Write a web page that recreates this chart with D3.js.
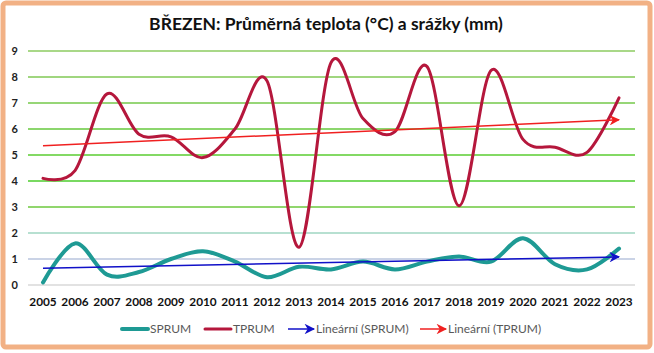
<!DOCTYPE html>
<html>
<head>
<meta charset="utf-8">
<script src="https://cdn.jsdelivr.net/npm/d3@7"></script>
<style>
  body { margin: 0; background: #fff; }
  svg { display: block; }
</style>
</head>
<body>
<svg id="chart"></svg>
<script>
// Data
const years = ["2005","2006","2007","2008","2009","2010","2011","2012","2013","2014",
               "2015","2016","2017","2018","2019","2020","2021","2022","2023"];
const sprum = [0.1, 1.6, 0.4, 0.5, 1.0, 1.3, 0.9, 0.3, 0.7, 0.6,
               0.9, 0.6, 0.9, 1.1, 0.9, 1.8, 0.8, 0.6, 1.4];
const tprum = [4.1, 4.4, 7.35, 5.8, 5.7, 4.9, 6.0, 7.85, 1.45, 8.55,
               6.4, 5.9, 8.4, 3.05, 8.25, 5.6, 5.3, 5.1, 7.2];
const yTicks = [0, 1, 2, 3, 4, 5, 6, 7, 8, 9];
const gridColors = ["#d9d9d9", "#b9c4de", "#9fd6c2", "#6cc83c", "#4ccc2c", "#5acc30",
                    "#66c83c", "#74c84a", "#80c854", "#8ccb60"];
const title = "BŘEZEN: Průměrná teplota (°C) a srážky (mm)";

const width = 654;
const height = 353;
const marginTop = 51;
const marginBottom = 68;
const marginLeft = 27;
const marginRight = 19;

const cSprum = "#1e9a94";
const cTprum = "#b5173c";
const cTrendS = "#1010c8";
const cTrendT = "#f02020";

const svg = d3.select("#chart")
  .attr("width", width)
  .attr("height", height)
  .attr("viewBox", [0, 0, width, height])
  .style("font-family", "Lato, 'Open Sans', sans-serif");

// arrow markers for trend lines
const defs = svg.append("defs");
[["arrS", cTrendS], ["arrT", cTrendT]].forEach(([id, c]) => {
  defs.append("marker")
    .attr("id", id)
    .attr("viewBox", "0 0 10 10")
    .attr("refX", 9)
    .attr("refY", 5)
    .attr("markerWidth", 8)
    .attr("markerHeight", 7)
    .attr("markerUnits", "strokeWidth")
    .attr("orient", "auto")
    .append("path")
    .attr("d", "M0,0L10,5L0,10L3,5Z")
    .attr("fill", c);
});

// outer frame
svg.append("rect")
  .attr("x", 3).attr("y", 3)
  .attr("width", width - 7).attr("height", height - 9)
  .attr("rx", 3)
  .attr("fill", "#fff")
  .attr("stroke", "#f2b185")
  .attr("stroke-width", 5);

const x = d3.scaleBand()
  .domain(years)
  .range([marginLeft, width - marginRight]);

const y = d3.scaleLinear()
  .domain([0, 9])
  .range([height - marginBottom, marginTop]);

const cx = (i) => x(years[i]) + x.bandwidth() / 2;

// gridlines
svg.append("g")
  .selectAll("line")
  .data(yTicks)
  .join("line")
  .attr("x1", marginLeft + 1)
  .attr("x2", width - marginRight)
  .attr("y1", (d) => y(d))
  .attr("y2", (d) => y(d))
  .attr("stroke", (d, i) => gridColors[i])
  .attr("stroke-width", 1.6);

// y axis labels
svg.append("g")
  .attr("transform", `translate(${marginLeft - 9},0)`)
  .call(d3.axisLeft(y).tickValues(yTicks).tickSize(0).tickPadding(0))
  .call((g) => g.select(".domain").remove())
  .selectAll("text")
  .attr("font-family", "Lato, sans-serif")
  .attr("font-size", 11)
  .attr("font-weight", "bold")
  .attr("fill", "#222");

// x axis labels
svg.append("g")
  .attr("transform", `translate(0,${height - marginBottom})`)
  .call(d3.axisBottom(x).tickSize(0).tickPadding(13))
  .call((g) => g.select(".domain").remove())
  .selectAll("text")
  .attr("font-family", "Lato, sans-serif")
  .attr("font-size", 11.8)
  .attr("font-weight", "bold")
  .attr("fill", "#111");

// linear trend (least squares on index)
function trend(vals) {
  const n = vals.length;
  const idx = d3.range(n);
  const mx = d3.mean(idx), my = d3.mean(vals);
  const b = d3.sum(idx, (i) => (i - mx) * (vals[i] - my)) /
            d3.sum(idx, (i) => (i - mx) * (i - mx));
  const a = my - b * mx;
  return [[0, a], [n - 1, a + b * (n - 1)]];
}

const smooth = d3.line()
  .x((d, i) => cx(i))
  .y((d) => y(d))
  .curve(d3.curveCardinal.tension(0));

svg.append("path")
  .datum(tprum)
  .attr("d", smooth)
  .attr("fill", "none")
  .attr("stroke", cTprum)
  .attr("stroke-width", 3)
  .attr("stroke-linecap", "round");

svg.append("path")
  .datum(sprum)
  .attr("d", smooth)
  .attr("fill", "none")
  .attr("stroke", cSprum)
  .attr("stroke-width", 4)
  .attr("stroke-linecap", "round");

const straight = d3.line()
  .x((d) => cx(d[0]))
  .y((d) => y(d[1]));

svg.append("path")
  .datum(trend(tprum))
  .attr("d", straight)
  .attr("stroke", cTrendT)
  .attr("stroke-width", 1.5)
  .attr("marker-end", "url(#arrT)");

svg.append("path")
  .datum(trend(sprum))
  .attr("d", straight)
  .attr("stroke", cTrendS)
  .attr("stroke-width", 1.5)
  .attr("marker-end", "url(#arrS)");

// title
svg.append("text")
  .attr("x", 326)
  .attr("y", 30)
  .attr("text-anchor", "middle")
  .attr("font-family", "Lato, sans-serif")
  .attr("font-size", 17.5)
  .attr("font-weight", "bold")
  .attr("fill", "#111")
  .text(title);

// legend
const legendItems = [
  { name: "SPRUM", color: cSprum, w: 4, arrow: null, x: 122 },
  { name: "TPRUM", color: cTprum, w: 3, arrow: null, x: 205 },
  { name: "Lineární (SPRUM)", color: cTrendS, w: 1.5, arrow: "arrS", x: 288 },
  { name: "Lineární (TPRUM)", color: cTrendT, w: 1.5, arrow: "arrT", x: 420 }
];
const legend = svg.append("g").attr("transform", "translate(0,329)");
const li = legend.selectAll("g").data(legendItems).join("g")
  .attr("transform", (d) => `translate(${d.x},0)`);
li.append("line")
  .attr("x1", 0).attr("x2", (d) => d.arrow ? 26 : 26)
  .attr("stroke", (d) => d.color)
  .attr("stroke-width", (d) => d.w)
  .attr("stroke-linecap", (d) => d.arrow ? "butt" : "round")
  .attr("marker-end", (d) => d.arrow ? `url(#${d.arrow})` : null);
li.append("text")
  .attr("x", 28)
  .attr("y", 4)
  .attr("font-size", 12)
  .attr("fill", "#595959")
  .text((d) => d.name);
</script>
</body>
</html>
